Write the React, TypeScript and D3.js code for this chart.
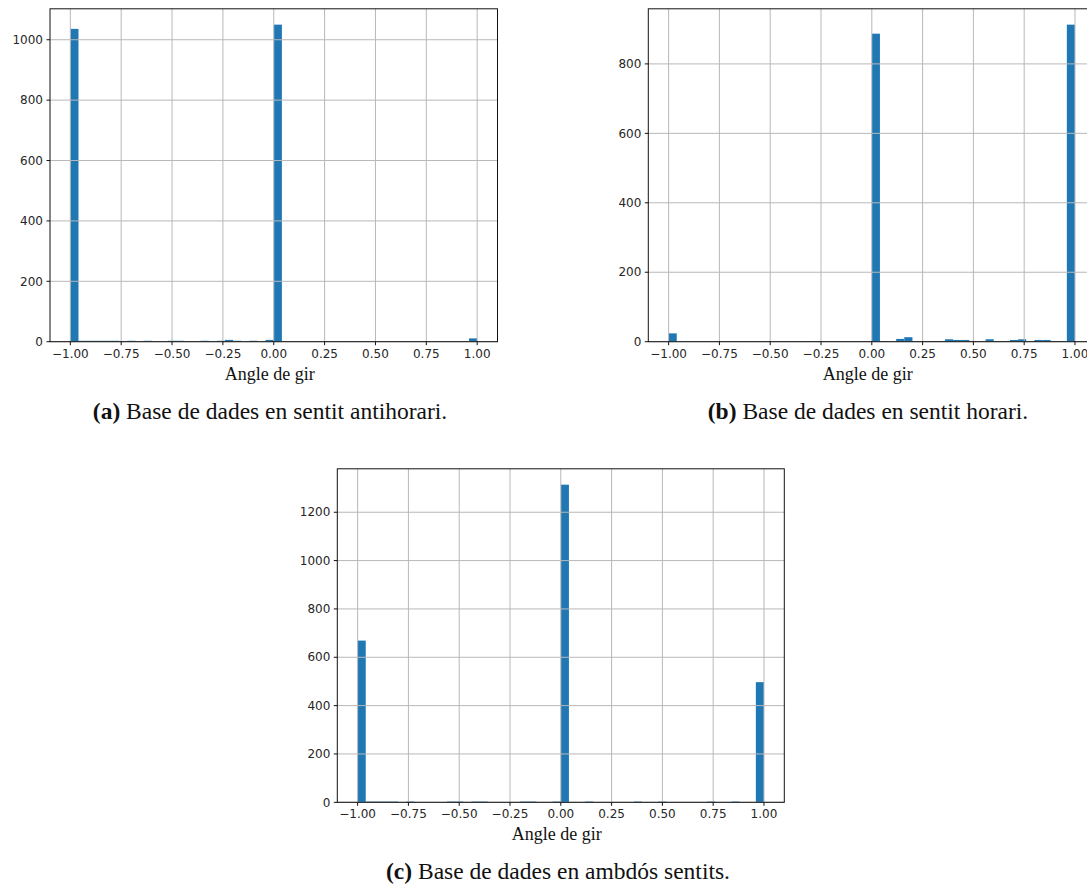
import React from 'react';
import * as d3 from 'd3';

// Histogram: 50 bins over [-1, 1]
const BIN_COUNT = 50;
const X_MIN = -1;
const X_MAX = 1;

const countsA = [
  1036, 3, 3, 3, 3, 3, 0, 3, 0, 3,
  0, 0, 3, 3, 0, 0, 3, 0, 3, 6,
  3, 0, 3, 0, 6, 1050, 0, 0, 0, 0,
  0, 0, 0, 0, 0, 0, 0, 0, 0, 0,
  0, 0, 0, 0, 0, 0, 0, 0, 0, 11,
];

const countsB = [
  24, 0, 0, 0, 0, 0, 0, 0, 0, 0,
  0, 0, 0, 0, 0, 0, 0, 0, 2, 0,
  0, 0, 0, 0, 0, 887, 2, 0, 8, 13,
  2, 2, 2, 2, 7, 5, 5, 2, 0, 7,
  2, 2, 5, 7, 0, 5, 5, 2, 2, 913,
];

const countsC = [
  669, 3, 3, 3, 3, 0, 3, 0, 0, 0,
  0, 3, 3, 0, 3, 3, 0, 0, 0, 0,
  3, 3, 0, 0, 3, 1314, 0, 0, 3, 0,
  0, 0, 0, 0, 3, 0, 0, 3, 0, 0,
  0, 0, 0, 3, 0, 0, 3, 0, 0, 497,
];

const xTicks = [-1, -0.75, -0.5, -0.25, 0, 0.25, 0.5, 0.75, 1];
const yTicksA = [0, 200, 400, 600, 800, 1000];
const yTicksB = [0, 200, 400, 600, 800];
const yTicksC = [0, 200, 400, 600, 800, 1000, 1200];

const xLabel = 'Angle de gir';
const captionLetters = ['(a)', '(b)', '(c)'];
const captionTexts = [
  ' Base de dades en sentit antihorari.',
  ' Base de dades en sentit horari.',
  ' Base de dades en ambdós sentits.',
];

const BAR_COLOR = '#1f77b4';
const GRID_COLOR = '#b8b8b8';
const TICK_FONT = '"DejaVu Sans", sans-serif';
const SERIF_FONT = '"Liberation Serif", "Times New Roman", serif';

type PanelProps = {
  left: number;
  top: number;
  width: number;
  height: number;
  counts: number[];
  yTicks: number[];
  caption: number;
  captionX: number;
  captionY: number;
};

function Panel({ left, top, width, height, counts, yTicks, caption, captionX, captionY }: PanelProps) {
  const pad = (X_MAX - X_MIN) * 0.05;
  const x = d3.scaleLinear().domain([X_MIN - pad, X_MAX + pad]).range([0, width]);
  const maxC = d3.max(counts) as number;
  const y = d3.scaleLinear().domain([0, maxC * 1.05]).range([height, 0]);
  const binW = (X_MAX - X_MIN) / BIN_COUNT;
  const fmtX = (v: number) => d3.format('.2f')(v).replace('-', '\u2212');
  const bars = counts.map((c, i) => ({ x0: X_MIN + i * binW, x1: X_MIN + (i + 1) * binW, c }));

  return (
    <g>
      <g transform={`translate(${left},${top})`}>
        {bars.filter((b) => b.c > 0).map((b, i) => (
          <rect
            key={i}
            x={x(b.x0)}
            y={y(b.c)}
            width={x(b.x1) - x(b.x0)}
            height={height - y(b.c)}
            fill={BAR_COLOR}
          />
        ))}
        {xTicks.map((t) => (
          <line key={'gx' + t} x1={x(t)} x2={x(t)} y1={0} y2={height} stroke={GRID_COLOR} strokeWidth={1} />
        ))}
        {yTicks.map((t) => (
          <line key={'gy' + t} x1={0} x2={width} y1={y(t)} y2={y(t)} stroke={GRID_COLOR} strokeWidth={1} />
        ))}
        <rect x={0} y={0} width={width} height={height} fill="none" stroke="#111" strokeWidth={1} />
        {xTicks.map((t) => (
          <g key={'tx' + t} transform={`translate(${x(t)},${height})`}>
            <line y1={0} y2={3.5} stroke="#111" strokeWidth={1} />
            <text
              y={16}
              textAnchor="middle"
              fontFamily={TICK_FONT}
              fontSize={12}
              fill="#262626"
            >
              {fmtX(t)}
            </text>
          </g>
        ))}
        {yTicks.map((t) => (
          <g key={'ty' + t} transform={`translate(0,${y(t)})`}>
            <line x1={0} x2={-3.5} stroke="#111" strokeWidth={1} />
            <text
              x={-7}
              dy="0.35em"
              textAnchor="end"
              fontFamily={TICK_FONT}
              fontSize={12}
              fill="#262626"
            >
              {t}
            </text>
          </g>
        ))}
        <text
          x={width / 2 - 4}
          y={height + 38}
          textAnchor="middle"
          fontFamily={SERIF_FONT}
          fontSize={18}
          fill="#111"
        >
          {xLabel}
        </text>
      </g>
      <text x={captionX} y={captionY} textAnchor="middle" fontFamily={SERIF_FONT} fontSize={23.5} fill="#111">
        <tspan fontWeight="bold">{captionLetters[caption]}</tspan>
        <tspan>{captionTexts[caption]}</tspan>
      </text>
    </g>
  );
}

export default function App() {
  return (
    <svg
      width={1087}
      height={886}
      style={{ position: 'absolute', left: 0, top: 0, background: '#fff', overflow: 'hidden' }}
    >
      <rect x={0} y={0} width={1087} height={886} fill="#fff" />
      <Panel left={50} top={8.8} width={447.5} height={332.9} counts={countsA} yTicks={yTicksA} caption={0} captionX={270} captionY={419} />
      <Panel left={648.3} top={8.8} width={447} height={332.9} counts={countsB} yTicks={yTicksB} caption={1} captionX={868} captionY={419} />
      <Panel left={337.3} top={468.8} width={447} height={333.5} counts={countsC} yTicks={yTicksC} caption={2} captionX={558} captionY={879} />
    </svg>
  );
}
